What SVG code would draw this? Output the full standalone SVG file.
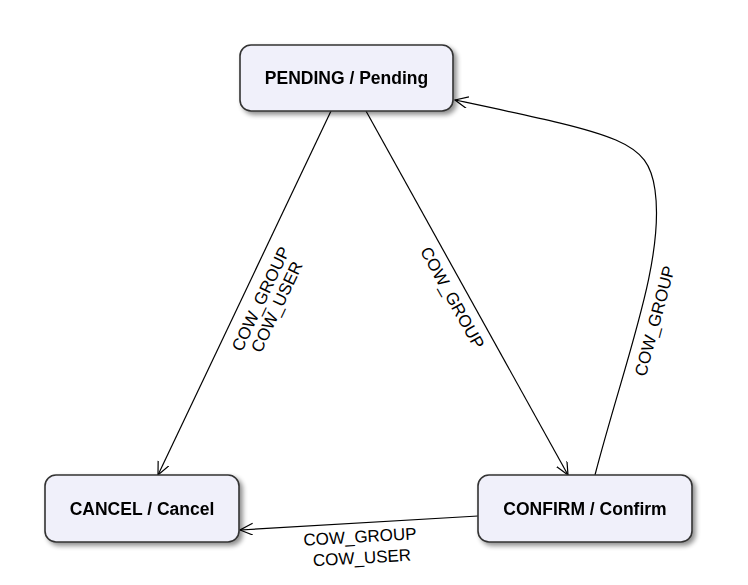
<svg xmlns="http://www.w3.org/2000/svg" width="748" height="585" viewBox="0 0 748 585">
<defs>
<filter id="sh" x="-20%" y="-20%" width="150%" height="160%">
<feGaussianBlur in="SourceAlpha" stdDeviation="2.5"/>
<feOffset dx="3" dy="3" result="b"/>
<feComponentTransfer><feFuncA type="linear" slope="0.45"/></feComponentTransfer>
<feMerge><feMergeNode/><feMergeNode in="SourceGraphic"/></feMerge>
</filter>
<marker id="arr" markerUnits="userSpaceOnUse" markerWidth="16" markerHeight="16" refX="13" refY="6" orient="auto">
<polyline points="0,0 13,6 0,12" fill="none" stroke="#000" stroke-width="1.2"/>
</marker>
<style>
.node rect{fill:#f0f0fa;stroke:#333;stroke-width:1.6}
.node text{font-family:"Liberation Sans",Arial,sans-serif;font-weight:bold;font-size:17.5px;fill:#000;text-anchor:middle;dominant-baseline:central}
.edges path{fill:none;stroke:#000;stroke-width:1.2;marker-end:url(#arr)}
.lbl{font-family:"Liberation Sans",Arial,sans-serif;font-size:17px;fill:#000;text-anchor:middle;dominant-baseline:central}
</style>
</defs>
<rect width="748" height="585" fill="#fff"/>
<g class="edges">
<path d="M331,111 L158,475"/>
<path d="M366,111 L568,475"/>
<path d="M595,475 C625,360 665,260 655,190 C648,140 620,135 455,100"/>
<path d="M478,516 L240,530"/>
<text class="lbl" transform="translate(261,299) rotate(-64.6)">COW_GROUP</text>
<text class="lbl" transform="translate(277,307) rotate(-64.6)">COW_USER</text>
<text class="lbl" transform="translate(452,298) rotate(61)">COW_GROUP</text>
<text class="lbl" transform="translate(655,321) rotate(-75)">COW_GROUP</text>
<text class="lbl" transform="translate(360,537) rotate(-3.3)">COW_GROUP</text>
<text class="lbl" transform="translate(362,558) rotate(-3.3)">COW_USER</text>
</g>
<g id="pending" class="node" filter="url(#sh)">
<rect x="240" y="45" width="213" height="66" rx="11"/>
<text x="346.5" y="78">PENDING / Pending</text>
</g>
<g id="cancel" class="node" filter="url(#sh)">
<rect x="45" y="475" width="194" height="67" rx="11"/>
<text x="142" y="508.5">CANCEL / Cancel</text>
</g>
<g id="confirm" class="node" filter="url(#sh)">
<rect x="478" y="475" width="214" height="67" rx="11"/>
<text x="585" y="508.5">CONFIRM / Confirm</text>
</g>
</svg>
